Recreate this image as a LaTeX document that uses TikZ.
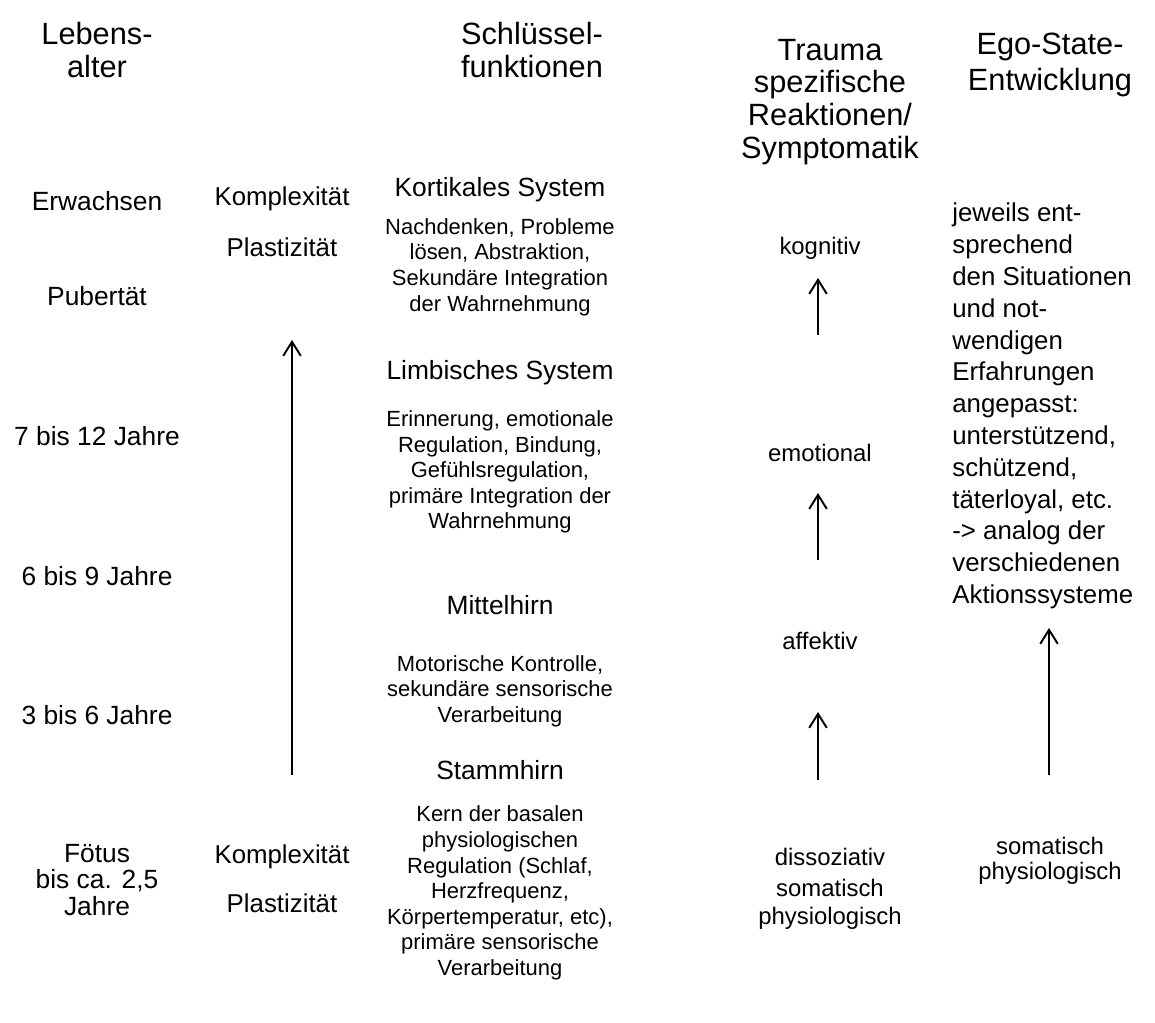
\documentclass[tikz,border=0pt]{standalone}
\usepackage{fontspec}
\setmainfont{Liberation Sans}
\usetikzlibrary{arrows.meta}

\newcommand{\fsz}[2]{\fontsize{#1}{#2}\selectfont}

\begin{document}
\begin{tikzpicture}[
    x=0.02cm, y=-0.02cm,
    hdr/.style={align=center, inner sep=0pt, font=\fsz{17.5pt}{18.7pt}},
    age/.style={align=center, inner sep=0pt, font=\fsz{15pt}{15pt}},
    cplx/.style={align=center, inner sep=0pt, font=\fsz{14.7pt}{17pt}},
    sys/.style={align=center, inner sep=0pt, font=\fsz{15pt}{17pt}},
    fn/.style={align=center, inner sep=0pt, font=\fsz{12.5pt}{14.6pt}},
    resp/.style={align=center, inner sep=0pt, font=\fsz{13.6pt}{14.2pt}},
    ego/.style={align=left, inner sep=0pt, anchor=west, font=\fsz{14.7pt}{18.1pt}},
    arrow/.style={-{Straight Barb[length=8pt, width=10pt]}, line width=1.1pt}
]
\useasboundingbox (0,0) rectangle (1155,1023);

% ============================================================
% KOPFZEILE
% ============================================================
\node[hdr] (hAlter) at (97,50) {Lebens-\\alter};
\node[hdr] (hFunk) at (532,50) {Schlüssel-\\funktionen};
\node[hdr] (hTrauma) at (830,102) {Trauma\\spezifische\\Reaktionen/\\Symptomatik};
\node[hdr, font=\fsz{17.5pt}{20pt}] (hEgo) at (1050,65) {Ego-State-\\Entwicklung};

% ============================================================
% LEBENSALTER
% ============================================================
\node[age] (erw) at (97,201) {Erwachsen};
\node[age] (pub) at (97,296) {Pubertät};
\node[age] (j712) at (97,436) {7 bis 12 Jahre};
\node[age] (j69) at (97,576) {6 bis 9 Jahre};
\node[age] (j36) at (97,715) {3 bis 6 Jahre};
\node[age] (foet) at (97,880) {Fötus\\bis ca. 2,5\\Jahre};

% ============================================================
% KOMPLEXITÄT / PLASTIZITÄT
% ============================================================
\node[cplx] (kTop) at (282,199) {Komplexität};
\node[cplx] (pTop) at (282,247) {Plastizität};
\node[cplx] (kBot) at (282,857) {Komplexität};
\node[cplx] (pBot) at (282,903) {Plastizität};

\coordinate (cplxFrom) at (292,775);
\coordinate (cplxTo) at (292,340);
\draw[arrow] (cplxFrom) -- (cplxTo);

% ============================================================
% SCHLÜSSELFUNKTIONEN
% ============================================================
\node[sys] (kort) at (500,190) {Kortikales System};
\node[fn] (kortFn) at (500,267) {Nachdenken, Probleme\\lösen, Abstraktion,\\Sekundäre Integration\\der Wahrnehmung};

\node[sys] (limb) at (500,373) {Limbisches System};
\node[fn] (limbFn) at (500,472) {Erinnerung, emotionale\\Regulation, Bindung,\\Gefühlsregulation,\\primäre Integration der\\Wahrnehmung};

\node[sys] (mitt) at (500,605) {Mittelhirn};
\node[fn] (mittFn) at (500,691) {Motorische Kontrolle,\\sekundäre sensorische\\Verarbeitung};

\node[sys] (stamm) at (500,770) {Stammhirn};
\node[fn] (stammFn) at (500,893) {Kern der basalen\\physiologischen\\Regulation (Schlaf,\\Herzfrequenz,\\Körpertemperatur, etc),\\primäre sensorische\\Verarbeitung};

% ============================================================
% TRAUMASPEZIFISCHE REAKTIONEN
% ============================================================
\node[resp] (kogn) at (820,248) {kognitiv};
\node[resp] (emot) at (820,453) {emotional};
\node[resp] (affe) at (820,641) {affektiv};
\node[resp] (diss) at (830,857) {dissoziativ};
\node[resp] (soma) at (830,888) {somatisch};
\node[resp] (phys) at (830,918) {physiologisch};

\coordinate (r1From) at (818,335);
\coordinate (r1To) at (818,278);
\coordinate (r2From) at (818,560);
\coordinate (r2To) at (818,493);
\coordinate (r3From) at (818,780);
\coordinate (r3To) at (818,712);
\draw[arrow] (r1From) -- (r1To);
\draw[arrow] (r2From) -- (r2To);
\draw[arrow] (r3From) -- (r3To);

% ============================================================
% EGO-STATE-ENTWICKLUNG
% ============================================================
\node[ego] (egoTxt) at (952,406) {jeweils ent-\\sprechend\\den Situationen\\und not-\\wendigen\\Erfahrungen\\angepasst:\\unterstützend,\\schützend,\\täterloyal, etc.\\-> analog der\\verschiedenen\\Aktionssysteme};
\node[resp] (egoSoma) at (1050,861) {somatisch\\physiologisch};

\coordinate (egoFrom) at (1049,775);
\coordinate (egoTo) at (1049,628);
\draw[arrow] (egoFrom) -- (egoTo);

\end{tikzpicture}
\end{document}
